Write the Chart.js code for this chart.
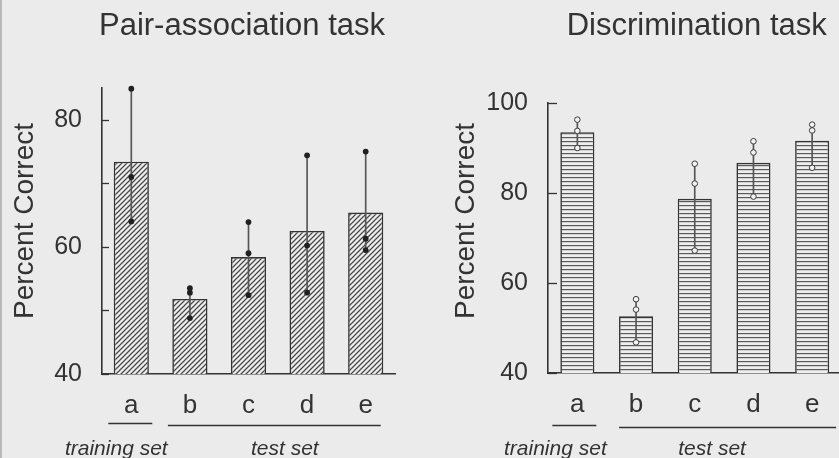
<!DOCTYPE html>
<html>
<head>
<meta charset="utf-8">
<script src="https://cdn.jsdelivr.net/npm/chart.js@4.4.1/dist/chart.umd.min.js"></script>
<style>
  html, body { margin: 0; padding: 0; width: 839px; height: 458px; overflow: hidden; background: #ebebeb; }
  .panel { position: absolute; top: 0; width: 430px; height: 458px; }
  #leftPanel { left: 0; }
  #rightPanel { left: 420px; }
  .edge { position: absolute; left: 0; top: 0; width: 2px; height: 458px; background: #b8b8b8; }
</style>
</head>
<body>
<div class="panel" id="leftPanel"><canvas id="pairChart" width="430" height="458"></canvas></div>
<div class="panel" id="rightPanel"><canvas id="discChart" width="430" height="458"></canvas></div>
<div class="edge"></div>
<script>
// Stimulus sets and their grouping
const categories = ['a', 'b', 'c', 'd', 'e'];
const groupLabels = ['training set', 'test set'];
const groupSpans = [[0, 0], [1, 4]];

// Pair-association task: mean percent correct and the three individual subjects
const pairMeans = [73.4, 51.8, 58.4, 62.5, 65.4];
const pairSubjects = [
  [84.9, 71.0, 64.0],
  [53.5, 52.8, 48.8],
  [63.9, 59.0, 52.4],
  [74.4, 60.2, 52.8],
  [75.0, 61.3, 59.5]
];
const pairTicks = [40, 50, 60, 70, 80];
const pairTickLabels = [40, 60, 80];

// Discrimination task
const discMeans = [93.5, 52.6, 78.7, 86.7, 91.6];
const discSubjects = [
  [96.3, 93.8, 90.0],
  [56.4, 54.1, 46.8],
  [86.5, 82.1, 67.2],
  [91.5, 89.0, 79.2],
  [95.2, 93.9, 85.6]
];
const discTicks = [40, 60, 80, 100];
const discTickLabels = [40, 60, 80, 100];

const FONT = "'Liberation Sans', Arial, Helvetica, sans-serif";
const INK = '#333333';

function makePattern(kind) {
  const c = document.createElement('canvas');
  const g = c.getContext('2d');
  if (kind === 'diagonal') {
    const s = 5;
    c.width = s; c.height = s;
    g.fillStyle = '#eeeeee'; g.fillRect(0, 0, s, s);
    g.strokeStyle = '#4a4a4a'; g.lineWidth = 1.25;
    g.beginPath();
    g.moveTo(-1, s + 1); g.lineTo(s + 1, -1);
    g.moveTo(-1, 1); g.lineTo(1, -1);
    g.moveTo(s - 1, s + 1); g.lineTo(s + 1, s - 1);
    g.stroke();
  } else {
    c.width = 4; c.height = 4;
    g.fillStyle = '#eeeeee'; g.fillRect(0, 0, 4, 4);
    g.fillStyle = '#5a5a5a'; g.fillRect(0, 1, 4, 1.2);
  }
  return g.createPattern(c, 'repeat');
}

// Tick marks pointing into the plot, titles and the set brackets under the axis
const panelDecor = {
  id: 'panelDecor',
  afterDraw(chart, args, o) {
    const { ctx, chartArea: a, scales: { x, y } } = chart;
    ctx.save();
    ctx.strokeStyle = INK;
    ctx.fillStyle = INK;
    ctx.lineWidth = 1.3;
    y.ticks.forEach(t => {
      const py = Math.round(y.getPixelForValue(t.value)) + 0.5;
      ctx.beginPath();
      ctx.moveTo(a.left, py);
      ctx.lineTo(a.left + o.tickLen, py);
      ctx.stroke();
    });

    ctx.textAlign = 'center';
    ctx.textBaseline = 'alphabetic';
    ctx.font = '31px ' + FONT;
    ctx.fillText(o.title, (a.left + a.right) / 2 + o.titleDx, o.titleY);

    ctx.save();
    ctx.translate(o.yTitleX, o.yTitleY);
    ctx.rotate(-Math.PI / 2);
    ctx.font = '28px ' + FONT;
    ctx.fillText(o.yTitle, 0, 0);
    ctx.restore();

    ctx.font = 'italic 21px ' + FONT;
    ctx.lineWidth = 1.5;
    groupSpans.forEach((span, i) => {
      const p0 = x.getPixelForValue(span[0]);
      const p1 = x.getPixelForValue(span[1]);
      const g = o.groups[i];
      ctx.beginPath();
      ctx.moveTo(p0 + g.start, g.lineY);
      ctx.lineTo(p1 + g.end, g.lineY);
      ctx.stroke();
      ctx.fillText(groupLabels[i], (p0 + p1) / 2 + g.labelDx, o.groupY);
    });
    ctx.restore();
  }
};

function buildChart(id, cfg) {
  const points = [];
  cfg.subjects.forEach((vals, i) => vals.forEach(v => points.push({ x: categories[i], y: v })));
  const ranges = cfg.subjects.map(vals => [Math.min(...vals), Math.max(...vals)]);

  return new Chart(document.getElementById(id), {
    type: 'bar',
    data: {
      labels: categories,
      datasets: [
        {
          type: 'line',
          data: points,
          showLine: false,
          clip: false,
          pointRadius: cfg.open ? 2.8 : 2.9,
          pointHoverRadius: 2.8,
          pointBorderWidth: cfg.open ? 1 : 0,
          pointBackgroundColor: cfg.open ? '#f2f2f2' : '#202020',
          pointBorderColor: '#3a3a3a',
          order: 1
        },
        {
          data: ranges,
          grouped: false,
          barThickness: 1,
          backgroundColor: '#555555',
          borderWidth: 0,
          order: 2
        },
        {
          data: cfg.means,
          grouped: false,
          barPercentage: cfg.barPct,
          categoryPercentage: 1,
          backgroundColor: makePattern(cfg.pattern),
          borderColor: INK,
          borderWidth: 1.6,
          borderSkipped: false,
          order: 3
        }
      ]
    },
    options: {
      responsive: false,
      animation: false,
      events: [],
      layout: { padding: cfg.padding },
      plugins: {
        legend: { display: false },
        tooltip: { enabled: false },
        title: { display: false },
        panelDecor: cfg.decor
      },
      scales: {
        x: {
          type: 'category',
          offset: true,
          grid: { display: false },
          border: { display: true, color: INK, width: 1.6 },
          ticks: { color: INK, font: { family: FONT, size: 26 }, padding: 8 },
          afterFit: s => { s.height = cfg.xHeight; }
        },
        y: {
          type: 'linear',
          min: 40,
          max: cfg.max,
          grid: { display: false, drawTicks: false },
          border: { display: true, color: INK, width: 1.6 },
          afterBuildTicks: s => { s.ticks = cfg.ticks.map(v => ({ value: v })); },
          ticks: {
            color: INK,
            font: { family: FONT, size: 25 },
            padding: 20,
            callback: v => (cfg.tickLabels.includes(v) ? String(v) : '')
          },
          afterFit: s => { s.width = cfg.yWidth; }
        }
      }
    },
    plugins: [panelDecor]
  });
}

buildChart('pairChart', {
  means: pairMeans,
  subjects: pairSubjects,
  ticks: pairTicks,
  tickLabels: pairTickLabels,
  max: 85,
  open: false,
  pattern: 'diagonal',
  barPct: 0.6,
  yWidth: 102,
  xHeight: 84,
  padding: { top: 88, right: 35, left: 0, bottom: 0 },
  decor: {
    title: 'Pair-association task', titleDx: -6.5, titleY: 35,
    yTitle: 'Percent Correct', yTitleX: 33, yTitleY: 221,
    tickLen: 7,
    groupY: 455,
    groups: [
      { start: -23, end: 21, lineY: 423.5, labelDx: -15 },
      { start: -22, end: 15, lineY: 425.5, labelDx: 7 }
    ]
  }
});

buildChart('discChart', {
  means: discMeans,
  subjects: discSubjects,
  ticks: discTicks,
  tickLabels: discTickLabels,
  max: 100,
  open: true,
  pattern: 'horizontal',
  barPct: 0.58,
  yWidth: 128,
  xHeight: 85,
  padding: { top: 103, right: 8.5, left: 0, bottom: 0 },
  decor: {
    title: 'Discrimination task', titleDx: 2, titleY: 35,
    yTitle: 'Percent Correct', yTitleX: 54, yTitleY: 221,
    tickLen: 9,
    groupY: 455,
    groups: [
      { start: -25, end: 19, lineY: 425.5, labelDx: -22 },
      { start: -17, end: 24, lineY: 427.5, labelDx: -12 }
    ]
  }
});
</script>
</body>
</html>
